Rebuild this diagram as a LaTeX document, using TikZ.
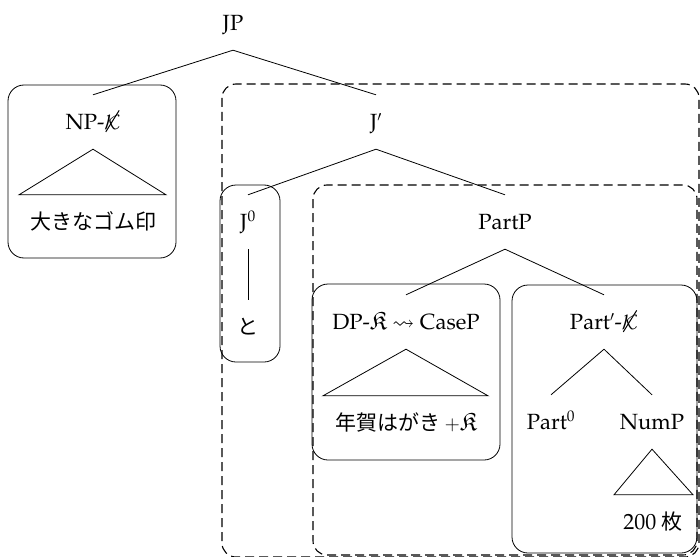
\documentclass[tikz,border=0pt]{standalone}
\usepackage[T1]{fontenc}
\usepackage{fontspec}
\usepackage{amssymb}
\usepackage{graphicx}
\newfontfamily\jp{Noto Sans CJK JP}
% Palatino for the Latin labels
\newcommand{\palfont}{\fontencoding{T1}\fontfamily{ppl}\selectfont}
% calligraphic K struck through by a slanted rule
\newcommand{\strikeK}{\ooalign{$\mathcal{K}$\cr\hidewidth\raisebox{-0.12em}{\rotatebox{58}{\rule{1.15em}{0.045em}}}\hidewidth\cr}}
% fraktur K, raised to the size of the capitals
\newcommand{\frakK}{\scalebox{1.15}{$\mathfrak{K}$}}

\begin{document}
\begin{tikzpicture}[x=1pt,y=-1pt,
  font=\fontsize{22}{26}\palfont,
  lbl/.style={inner sep=0pt, minimum height=54pt, text height=15pt, text depth=0pt},
  jtext/.style={lbl, font=\fontsize{21}{24}\selectfont\jp},
  edge/.style={line width=0.8pt},
  cbox/.style={draw, line width=0.8pt, rounded corners=16pt},
  dbox/.style={draw=black, line width=1.1pt, dash pattern=on 9pt off 5pt, rounded corners=14pt}]

\useasboundingbox (0,0) rectangle (700,556);

% dashed constituents J' and PartP
\draw[dbox] (222,84) rectangle (699,557);
\draw[dbox] (313,185) rectangle (697,555);

% solid constituents
\draw[cbox] (8,85) rectangle (176,258);
\draw[cbox] (220,185) rectangle (280,362);
\draw[cbox] (312,284) rectangle (500,460);
\draw[cbox] (512,285) rectangle (697,553);

% labels
\node[lbl] (jp)      at (233,23)  {JP};
\node[lbl] (np)      at (93,122)  {NP-\strikeK};
\node[lbl] (jbar)    at (376,122) {J$'$};
\node[lbl] (j0)      at (248,222) {J\textsuperscript{0}};
\node[lbl] (partp)   at (505,222) {PartP};
\node[lbl] (dp)      at (406,322) {DP-\frakK~$\leadsto$~CaseP};
\node[lbl] (partbar) at (604,322) {Part$'$-\strikeK};
\node[lbl] (part0)   at (551,422) {Part\textsuperscript{0}};
\node[lbl] (nump)    at (652,422) {NumP};

% terminal strings
\node[jtext] (nptxt)  at (93,222)  {大きなゴム印};
\node[jtext] (to)     at (248,327) {と};
\node[jtext] (dptxt)  at (406,423) {年賀はがき {\fontsize{22}{26}\palfont$+$\frakK}};
\node[lbl]   (numtxt) at (653,522) {200 {\fontsize{21}{24}\selectfont\jp 枚}};

% branches
\draw[edge] (jp.south) -- (np.north);
\draw[edge] (jp.south) -- (jbar.north);
\draw[edge] (jbar.south) -- (j0.north);
\draw[edge] (jbar.south) -- (partp.north);
\draw[edge] (j0.south) -- (to.north);
\draw[edge] (partp.south) -- (dp.north);
\draw[edge] (partp.south) -- (partbar.north);
\draw[edge] (partbar.south) -- (part0.north);
\draw[edge] (partbar.south) -- (nump.north);

% triangles over unanalysed phrases
\draw[edge] (np.south) -- ([xshift=-74pt]nptxt.north) -- ([xshift=73pt]nptxt.north) -- cycle;
\draw[edge] (dp.south) -- ([xshift=-83pt]dptxt.north) -- ([xshift=82pt]dptxt.north) -- cycle;
\draw[edge] (nump.south) -- ([xshift=-39pt]numtxt.north) -- ([xshift=40pt]numtxt.north) -- cycle;
\end{tikzpicture}
\end{document}
